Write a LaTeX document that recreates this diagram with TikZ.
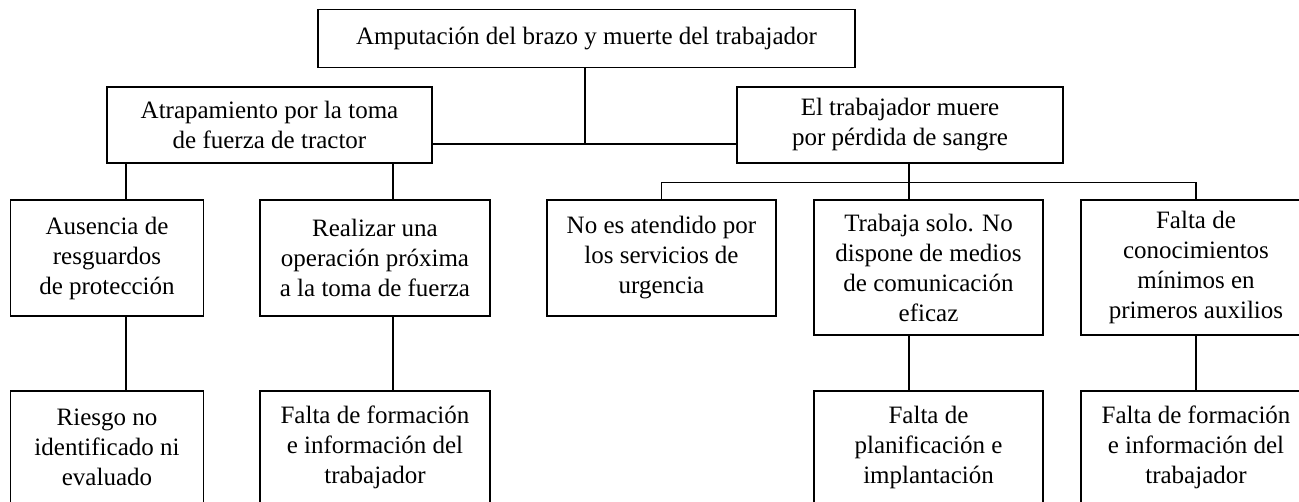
\documentclass[tikz,border=0pt]{standalone}
\usepackage{fontspec}
\setmainfont{Liberation Serif}
\begin{document}
\begin{tikzpicture}[x=1pt,y=-1pt,
  box/.style={draw, line width=1.2pt, align=center, inner sep=0pt,
    font=\fontsize{25}{30}\selectfont},
  link/.style={line width=1.2pt}]
\useasboundingbox (0,0) rectangle (1299,501);
% level 0
\node[box, minimum width=537pt, minimum height=58pt] (top) at (586.5,38.5)
  {Amputación del brazo y muerte del trabajador};
% level 1
\node[box, minimum width=325pt, minimum height=76pt] (atr) at (269.5,125)
  {Atrapamiento por la toma\\de fuerza de tractor};
\node[box, minimum width=326pt, minimum height=76pt] (muere) at (900,125)
  {El trabajador muere\\por pérdida de sangre};
% level 2
\node[box, minimum width=193pt, minimum height=116pt] (aus) at (107,258)
  {Ausencia de\\resguardos\\de protección};
\node[box, minimum width=230pt, minimum height=116pt] (real) at (375,258)
  {Realizar una\\operación próxima\\a la toma de fuerza};
\node[box, minimum width=229pt, minimum height=116pt] (noes) at (661.5,258)
  {No es atendido por\\los servicios de\\urgencia};
\node[box, minimum width=229pt, minimum height=135pt] (trab) at (928.5,267.5)
  {Trabaja solo. No\\dispone de medios\\de comunicación\\eficaz};
\node[box, minimum width=230pt, minimum height=135pt] (falcon) at (1196,267.5)
  {Falta de\\conocimientos\\mínimos en\\primeros auxilios};
% level 3
\node[box, minimum width=193pt, minimum height=112pt] (riesgo) at (107,447)
  {Riesgo no\\identificado ni\\evaluado};
\node[box, minimum width=230pt, minimum height=112pt] (form1) at (375,447)
  {Falta de formación\\e información del\\trabajador};
\node[box, minimum width=229pt, minimum height=112pt] (plan) at (928.5,447)
  {Falta de\\planificación e\\implantación};
\node[box, minimum width=230pt, minimum height=112pt] (form2) at (1196,447)
  {Falta de formación\\e información del\\trabajador};
% helper coordinates
\coordinate (j0) at (585,144);
\coordinate (ca) at (126,0);
\coordinate (cb) at (393,0);
\coordinate (bus) at (909,182.5);
\coordinate (cn) at (661.5,0);
\coordinate (ct) at (909,0);
\coordinate (cf) at (1196,0);
% connectors
\draw[link] (top.south -| j0) -- (j0);
\draw[link] (atr.east |- j0) -- (muere.west |- j0);
\draw[link] (atr.south -| ca) -- (aus.north -| ca);
\draw[link] (atr.south -| cb) -- (real.north -| cb);
\draw[link] (aus.south -| ca) -- (riesgo.north -| ca);
\draw[link] (real.south -| cb) -- (form1.north -| cb);
\draw[link] (muere.south -| bus) -- (bus);
\draw[link] (noes.north -| cn) -- (bus -| cn) -- (bus -| cf) -- (falcon.north -| cf);
\draw[link] (bus) -- (trab.north -| ct);
\draw[link] (trab.south -| ct) -- (plan.north -| ct);
\draw[link] (falcon.south -| cf) -- (form2.north -| cf);
\end{tikzpicture}
\end{document}
